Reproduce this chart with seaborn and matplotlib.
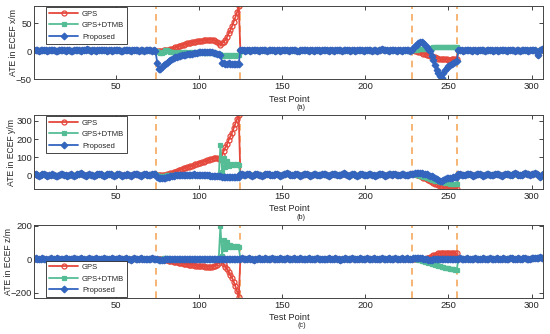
import matplotlib
matplotlib.use("Agg")
import matplotlib.pyplot as plt
import pandas as pd
import seaborn as sns

# test points 1..307, outage windows drawn as dashed lines
test_points = list(range(1, 308))
outage_lines = [74.5, 124.5, 228, 255]
method_names = ["GPS", "GPS+DTMB", "Proposed"]

# ---------------- x axis (ECEF x) ----------------
proposed_x = [
    2, 3, 2, 1, 2, 3, 2, 2, 1, 2,
    3, 3, 2, 1, 1, 2, 2, 3, 2, 1,
    2, 2, 1, 1, 2, 3, 2, 2, 1, 2,
    2, 3, 4, 2, 1, 2, 2, 1, 2, 3,
    3, 2, 2, 2, 1, 2, 2, 1, 2, 3,
    2, 2, 1, 1, 2, 2, 3, 2, 1, 2,
    2, 3, 2, 1, 2, 2, 1, 2, 3, 2,
    2, 1, 2, 1, -20, -32, -31, -28, -25, -23,
    -20, -18, -16, -14, -12, -11, -10, -9, -8, -7,
    -6, -6, -5, -5, -4, -4, -3, -3, -3, -2,
    -2, -2, -1, -1, -1, -2, -2, -2, -3, -3,
    -4, -5, -6, -20, -21, -22, -22, -21, -22, -23,
    -22, -22, -23, -22, 2, 3, 2, 1, 2, 2,
    1, 2, 3, 2, 2, 1, 2, 3, 2, 2,
    1, 2, 2, 3, 2, 1, 2, 2, 1, 2,
    3, 2, 2, 1, 2, 2, 3, 2, 1, 1,
    2, 2, 3, 2, 2, 1, 2, 2, 1, 2,
    3, 2, 1, 2, 2, 3, 2, 1, 2, 2,
    1, 2, 3, 2, 2, 1, 2, 2, 3, 2,
    1, 2, 2, 1, 2, 3, 2, 2, 1, 2,
    2, 3, 2, 1, 2, 2, 1, 2, 3, 4,
    3, 2, 2, 1, 2, 2, 3, 2, 1, 2,
    2, 1, 2, 3, 2, 2, 1, 2, 6, 10,
    12, 14, 16, 16, 14, 11, 7, 4, 0, -8,
    -16, -25, -33, -38, -45, -48, -38, -33, -30, -27,
    -25, -23, -21, -19, -18, 2, 3, 2, 1, 2,
    2, 3, 2, 1, 2, 2, 1, 2, 3, 2,
    2, 1, 2, 2, 3, 2, 1, 2, 2, 1,
    2, 3, 2, 2, 1, 2, 2, 3, 2, 1,
    2, 2, 1, 2, 3, 2, 2, 1, 2, 2,
    3, 2, -1, -6, 2, 4, 3,
]
# points 75..124
gps_x_out1 = [
    0, 0, 1, 1, 2, 2, 3, 3, 4, 5,
    6, 7, 8, 9, 10, 11, 12, 13, 14, 15,
    15, 16, 17, 17, 18, 18, 19, 19, 20, 20,
    20, 21, 21, 21, 20, 19, 17, 14, 12, 14,
    17, 21, 26, 32, 38, 45, 53, 61, 70, 81,
]
dtmb_x_out1 = [
    0, -2, -3, -3, -2, 2, 3, 1, -1, -2,
    -2, -3, -3, -2, -3, -3, -2, -2, -3, -3,
    -2, -2, -3, -3, -2, -2, -3, -2, -2, -3,
    -3, -2, -2, -3, -3, -3, -4, -4, -5, -9,
    -7, -8, -7, -7, -8, -7, -7, -8, -7, -7,
]
# points 228..255
gps_x_out2 = [
    2, 2, 1, 0, -1, -2, -3, -4, -5, -6,
    -7, -8, -9, -10, -11, -12, -13, -13, -14, -14,
    -14, -14, -15, -15, -14, -14, -13, -13,
]
dtmb_x_out2 = [
    2, 2, 3, 3, 4, 4, 5, 5, 5, 6,
    6, 6, 6, 7, 7, 7, 7, 7, 7, 8,
    8, 8, 8, 8, 8, 8, 8, 8,
]

# ---------------- y axis (ECEF y) ----------------
proposed_y = [
    5, 8, 4, -3, 2, 6, 9, 3, -2, 1,
    4, 7, 2, -4, -1, 3, 8, 10, 4, 0,
    -2, 3, 6, 2, -3, 1, 5, 8, 12, 6,
    2, -1, 3, 7, 4, 0, -3, 2, 6, 9,
    5, 1, -2, 3, 6, 10, 7, 2, -1, 4,
    8, 5, 1, -3, 0, 4, 7, 3, -2, 1,
    5, 9, 6, 2, -1, 3, 6, 8, 4, 0,
    3, 7, 9, 5, -10, -15, -16, -15, -13, -12,
    -10, -8, -6, -4, -2, 0, 1, 2, 3, 2,
    3, 4, 3, 2, 3, 4, 5, 4, 3, 4,
    3, 2, 3, 2, 1, 0, -1, -2, -3, -4,
    -5, -6, -6, -7, -8, -8, -9, -9, -10, -9,
    -10, -9, -10, -8, 5, 8, 4, 2, 6, 9,
    3, -1, 2, 6, 8, 4, 1, -2, 3, 7,
    10, 6, 2, 0, 4, 8, 5, 1, -3, 2,
    6, 9, 12, 7, 3, 0, 4, 8, 5, 2,
    -1, 3, 7, 10, 6, 2, -2, 1, 5, 8,
    4, 0, 3, 7, 9, 5, 1, -2, 2, 6,
    9, 7, 3, 0, 4, 8, 11, 6, 2, -1,
    3, 7, 5, 1, -2, 2, 6, 9, 4, 0,
    2, 6, 8, 4, 1, -2, 3, 7, 10, 5,
    1, -1, 3, 7, 5, 2, 6, 9, 4, 0,
    3, 6, 8, 4, 1, 3, 7, 9, 10, 12,
    13, 14, 13, 12, 10, 8, 5, 2, -2, -6,
    -10, -15, -20, -26, -32, -30, -25, -20, -17, -15,
    -13, -12, -11, -10, -9, 5, 8, 4, 1, 3,
    7, 10, 6, 2, -1, 3, 6, 9, 5, 1,
    -2, 2, 6, 8, 4, 0, 3, 7, 10, 6,
    2, -1, 3, 6, 9, 5, 1, 4, 8, 11,
    7, 3, 0, 4, 8, 12, 9, 5, 2, 6,
    10, 14, 8, 3, -8, 2, 5,
]
gps_y_out1 = [
    0, 0, 0, 0, 1, 3, 6, 9, 12, 15,
    18, 21, 25, 28, 32, 35, 38, 41, 45, 48,
    51, 54, 57, 60, 64, 67, 70, 73, 76, 79,
    82, 85, 88, 91, 94, 97, 96, 92, 90, 110,
    135, 155, 172, 195, 215, 235, 260, 285, 310, 330,
]
dtmb_y_out1 = [
    0, -3, -4, -3, -2, -1, 0, 1, 1, 2,
    2, 2, 3, 3, 2, 2, 3, 3, 2, 2,
    3, 3, 2, 2, 3, 2, 2, 1, 1, 0,
    0, -1, -1, -2, -2, -3, -3, -4, 168, 20,
    95, 45, 80, 50, 65, 58, 62, 57, 60, 58,
]
gps_y_out2 = [
    10, 9, 7, 4, 0, -4, -8, -12, -16, -20,
    -25, -30, -35, -40, -45, -50, -54, -58, -61, -64,
    -66, -68, -70, -71, -72, -73, -74, -74,
]
dtmb_y_out2 = [
    10, 9, 7, 4, 1, -2, -5, -8, -11, -14,
    -17, -20, -23, -26, -29, -31, -33, -35, -37, -39,
    -41, -43, -44, -45, -46, -47, -48, -50,
]

# ---------------- z axis (ECEF z) ----------------
proposed_z = [
    2, 4, 1, -2, 3, 5, 2, 0, -3, 1,
    4, 2, -1, 3, 6, 3, 0, -2, 2, 5,
    3, 1, -2, 2, 4, 1, -1, 3, 5, 2,
    0, -3, 1, 4, 2, -1, 3, 6, 2, 0,
    -2, 2, 5, 3, 0, -2, 1, 4, 2, -1,
    3, 5, 2, -1, 1, 4, 2, 0, -3, 2,
    4, 1, -1, 3, 5, 2, 0, 3, 1, -2,
    2, 4, 1, 3, -2, -4, -5, -4, -3, -2,
    -1, 0, 1, 2, 1, 0, 1, 2, 1, 0,
    -1, 0, 1, 2, 1, 0, -1, 0, 1, 2,
    1, 0, -1, 0, 1, 0, -1, -2, -1, 0,
    1, 2, 3, 2, 1, 0, 1, 2, 1, 0,
    1, 2, 1, 0, 3, 5, 2, -1, 1, 4,
    2, 0, -3, 1, 3, 5, 2, -1, 2, 4,
    1, -2, 2, 5, 3, 0, -2, 1, 4, 2,
    -1, 3, 5, 2, 0, 2, 4, 1, -2, 2,
    5, 3, 0, -1, 2, 4, 1, -2, 1, 3,
    5, 2, 0, 3, 1, -2, 2, 4, 2, -1,
    1, 4, 2, 0, -3, 1, 3, 5, 2, 0,
    2, 4, 1, -2, 1, 3, 5, 2, -1, 2,
    4, 1, -1, 3, 5, 2, 0, -2, 2, 4,
    1, -1, 3, 5, 2, 0, 2, 4, 1, -2,
    2, 4, 1, 3, 5, 2, 0, 2, 5, 8,
    9, 8, 6, 4, 2, 0, -2, -3, -4, -3,
    -2, -1, 0, 1, 2, 3, 2, 1, 0, -1,
    0, 1, 2, 1, 0, 3, 5, 2, -1, 1,
    4, 2, 0, -2, 2, 5, 3, 1, -1, 3,
    5, 2, 0, 2, 4, 1, -2, 1, 4, 2,
    0, 3, 5, 2, -1, 1, 4, 6, 3, 0,
    2, 5, 3, 1, 4, 6, 3, 0, 2, 5,
    7, 4, 9, 6, 12, 8, 5,
]
gps_z_out1 = [
    0, 0, -1, -2, -3, -5, -7, -9, -11, -13,
    -15, -17, -19, -21, -23, -25, -27, -29, -31, -33,
    -34, -36, -37, -38, -39, -40, -41, -42, -43, -44,
    -44, -45, -45, -44, -42, -38, -32, -22, -10, -4,
    -30, -45, -60, -78, -95, -112, -135, -162, -192, -228,
]
dtmb_z_out1 = [
    0, 1, 2, 3, 4, 6, 5, 3, 1, 0,
    -1, 0, 1, 0, -1, 0, 1, 0, -1, 0,
    1, 0, -1, 0, 1, 0, -1, 0, 1, 0,
    -1, 0, 1, 0, -1, 0, 1, 3, 200, 20,
    115, 60, 100, 70, 85, 75, 80, 74, 76, 72,
]
gps_z_out2 = [
    2, 3, 3, 2, 2, 1, 1, 2, 3, 5,
    8, 12, 17, 22, 27, 31, 34, 36, 37, 38,
    38, 38, 37, 37, 36, 36, 35, 34,
]
dtmb_z_out2 = [
    2, 1, 0, -2, -4, -6, -9, -12, -15, -18,
    -21, -24, -27, -30, -33, -36, -39, -42, -45, -48,
    -50, -52, -54, -56, -58, -60, -62, -64,
]

y_labels = ["ATE in ECEF x/m", "ATE in ECEF y/m", "ATE in ECEF z/m"]
panel_tags = ["(a)", "(b)", "(c)"]
y_ticks = [[-50, 0, 50], [0, 100, 200, 300], [-200, 0, 200]]
y_limits = [(-50, 81), (-75, 332), (-232, 204)]
x_ticks = [50, 100, 150, 200, 250, 300]


def with_outages(base, part1, part2):
    """Proposed baseline with the two outage windows replaced."""
    vals = list(base)
    vals[74:124] = part1
    vals[227:255] = part2
    assert len(vals) == len(test_points)
    return vals


def build_frame(proposed, gps1, gps2, dtmb1, dtmb2):
    rows = []
    series = {
        "GPS": with_outages(proposed, gps1, gps2),
        "GPS+DTMB": with_outages(proposed, dtmb1, dtmb2),
        "Proposed": proposed,
    }
    for name in method_names:
        for p, v in zip(test_points, series[name]):
            rows.append((p, v, name))
    return pd.DataFrame(rows, columns=["point", "ate", "method"])


frames = [
    build_frame(proposed_x, gps_x_out1, gps_x_out2, dtmb_x_out1, dtmb_x_out2),
    build_frame(proposed_y, gps_y_out1, gps_y_out2, dtmb_y_out1, dtmb_y_out2),
    build_frame(proposed_z, gps_z_out1, gps_z_out2, dtmb_z_out1, dtmb_z_out2),
]

styles = {
    "GPS": dict(color="#E5483C", marker="o", markerfacecolor="none", ms=3.6),
    "GPS+DTMB": dict(color="#55BD95", marker="s", markerfacecolor="#55BD95", ms=3.4),
    "Proposed": dict(color="#3365BF", marker="D", markerfacecolor="#3365BF", ms=3.4),
}

sns.set_theme(style="ticks")
plt.rcParams["font.family"] = ["Liberation Sans", "DejaVu Sans"]
plt.rcParams.update({
    "xtick.direction": "in", "ytick.direction": "in",
    "xtick.top": True, "ytick.right": True,
    "xtick.major.size": 3, "ytick.major.size": 3,
    "xtick.major.width": 0.6, "ytick.major.width": 0.6,
    "axes.edgecolor": "#444444", "axes.linewidth": 0.7,
    "xtick.color": "#262626", "ytick.color": "#262626",
})

fig = plt.figure(figsize=(5.5, 3.34), dpi=100)
boxes = [
    [0.0618, 0.7626, 0.926, 0.2194],
    [0.0618, 0.4341, 0.926, 0.2216],
    [0.0618, 0.1078, 0.926, 0.2186],
]
ylabel_x = [-0.041, -0.045, -0.051]

for i, df in enumerate(frames):
    ax = fig.add_axes(boxes[i])
    for xv in outage_lines:
        ax.axvline(xv, color="#F5A85C", linestyle=(0, (4, 3)), linewidth=1.2, zorder=1)
    for name in method_names:
        st = styles[name]
        sub = df[df["method"] == name]
        sns.lineplot(data=sub, x="point", y="ate", ax=ax, label=name,
                     color=st["color"], marker=st["marker"], markersize=st["ms"],
                     markerfacecolor=st["markerfacecolor"],
                     markeredgecolor=st["color"], markeredgewidth=0.9,
                     linewidth=1.3, estimator=None, sort=False)
    ax.set_xlim(1, 307)
    ax.set_ylim(*y_limits[i])
    ax.set_xticks(x_ticks)
    ax.set_yticks(y_ticks[i])
    ax.tick_params(labelsize=6.8, pad=2)
    ax.tick_params(axis="y", pad=1.5)
    ax.set_xlabel("Test Point", fontsize=6.6, va="center")
    ax.xaxis.set_label_coords(0.501, -0.27)
    ax.set_ylabel(y_labels[i], fontsize=6.2, va="center")
    ax.yaxis.set_label_coords(ylabel_x[i], 0.5)
    ax.text(0.525, -0.38, panel_tags[i], transform=ax.transAxes,
            ha="center", va="center", fontsize=5.2)
    legend_kw = dict(fontsize=5.5, handlelength=3.8, handletextpad=0.5,
                     borderpad=0.4, labelspacing=0.55, borderaxespad=0,
                     fancybox=False, framealpha=1, edgecolor="#262626")
    if i < 2:
        leg = ax.legend(loc="upper left", bbox_to_anchor=(0.024, 0.985), **legend_kw)
    else:
        leg = ax.legend(loc="lower left", bbox_to_anchor=(0.024, 0.012), **legend_kw)
    leg.get_frame().set_linewidth(0.6)

fig.savefig("out.png", dpi=100)
